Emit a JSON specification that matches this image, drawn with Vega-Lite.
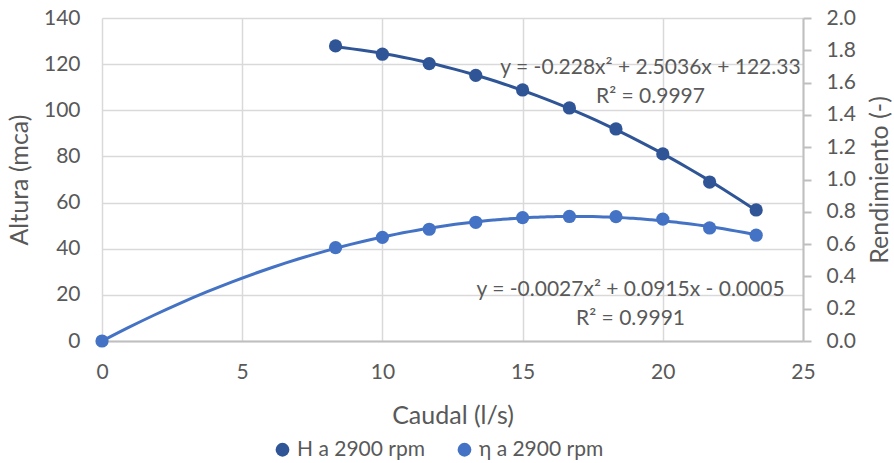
{
  "$schema": "https://vega.github.io/schema/vega-lite/v6.json",
  "width": 701,
  "height": 323,
  "autosize": {"type": "none"},
  "padding": {"left": 102, "top": 18, "right": 91, "bottom": 122},
  "background": "white",
  "config": {
    "font": "Lato",
    "view": {"stroke": null},
    "axis": {"labelFont": "Lato", "titleFont": "Lato", "labelFontSize": 21, "titleFontSize": 25, "labelColor": "#595959", "titleColor": "#595959", "titleFontWeight": "normal", "gridColor": "#D9D9D9", "gridWidth": 1.5, "labelFlush": false, "labelOverlap": false},
    "legend": {"labelFont": "Lato", "labelFontSize": 21, "labelColor": "#595959"}
  },
  "datasets": {
    "H": [
      {"q": 8.33, "H": 127.9},
      {"q": 10.0, "H": 124.3},
      {"q": 11.67, "H": 120.2},
      {"q": 13.33, "H": 115.1},
      {"q": 15.0, "H": 108.8},
      {"q": 16.67, "H": 101.0},
      {"q": 18.33, "H": 91.9},
      {"q": 20.0, "H": 81.1},
      {"q": 21.67, "H": 68.9},
      {"q": 23.33, "H": 56.8}
    ],
    "eta": [
      {"q": 0, "eta": 0.0},
      {"q": 8.33, "eta": 0.578},
      {"q": 10.0, "eta": 0.642},
      {"q": 11.67, "eta": 0.692},
      {"q": 13.33, "eta": 0.735},
      {"q": 15.0, "eta": 0.764},
      {"q": 16.67, "eta": 0.771},
      {"q": 18.33, "eta": 0.770},
      {"q": 20.0, "eta": 0.755},
      {"q": 21.67, "eta": 0.700},
      {"q": 23.33, "eta": 0.655}
    ],
    "labels": [
      {"q": 19.56, "H": 118.3, "txt": "y = -0.228x² + 2.5036x + 122.33"},
      {"q": 19.56, "H": 105.8, "txt": "R² = 0.9997"},
      {"q": 18.85, "H": 22.1, "txt": "y = -0.0027x² + 0.0915x - 0.0005"},
      {"q": 18.85, "H": 9.5, "txt": "R² = 0.9991"}
    ]
  },
  "layer": [
    {
      "layer": [
        {
          "data": {"name": "H"},
          "transform": [{"regression": "H", "on": "q", "method": "poly", "order": 2, "extent": [8.33, 23.33]}],
          "mark": {"type": "line", "color": "#2F5597", "strokeWidth": 3, "interpolate": "monotone"},
          "encoding": {
            "x": {"field": "q", "type": "quantitative"},
            "y": {"field": "H", "type": "quantitative"}
          }
        },
        {
          "data": {"name": "H"},
          "mark": {"type": "point", "filled": true, "opacity": 1, "size": 175},
          "encoding": {
            "x": {"field": "q", "type": "quantitative", "scale": {"domain": [0, 25], "nice": false},
              "axis": {"title": "Caudal (l/s)", "values": [0, 5, 10, 15, 20, 25], "grid": true, "ticks": false, "domainColor": "#BFBFBF", "domainWidth": 2, "labelPadding": 20, "titlePadding": 21, "labelOverlap": false, "labelFlush": false}},
            "y": {"field": "H", "type": "quantitative", "scale": {"domain": [0, 140], "nice": false},
              "axis": {"title": "Altura (mca)", "orient": "left", "values": [0, 20, 40, 60, 80, 100, 120, 140], "grid": true, "domain": false, "ticks": false, "labelPadding": 22, "titlePadding": 11, "labelOverlap": false}},
            "color": {"datum": "H a 2900 rpm", "type": "nominal",
              "scale": {"domain": ["H a 2900 rpm", "η a 2900 rpm"], "range": ["#2F5597", "#4472C4"]},
              "legend": {"title": null, "orient": "none", "legendX": 170, "legendY": 421, "direction": "horizontal", "symbolType": "circle", "symbolSize": 190, "columnPadding": 28, "labelLimit": 300}}
          }
        },
        {
          "data": {"name": "labels"},
          "mark": {"type": "text", "fontSize": 21, "color": "#595959", "font": "Lato", "align": "center", "baseline": "middle"},
          "encoding": {
            "x": {"field": "q", "type": "quantitative"},
            "y": {"field": "H", "type": "quantitative"},
            "text": {"field": "txt"}
          }
        }
      ]
    },
    {
      "layer": [
        {
          "data": {"name": "eta"},
          "transform": [{"regression": "eta", "on": "q", "method": "poly", "order": 2, "extent": [0, 23.33]}],
          "mark": {"type": "line", "color": "#4472C4", "strokeWidth": 3, "interpolate": "monotone"},
          "encoding": {
            "x": {"field": "q", "type": "quantitative"},
            "y": {"field": "eta", "type": "quantitative"}
          }
        },
        {
          "data": {"name": "eta"},
          "mark": {"type": "point", "filled": true, "opacity": 1, "size": 175},
          "encoding": {
            "x": {"field": "q", "type": "quantitative"},
            "y": {"field": "eta", "type": "quantitative", "scale": {"domain": [0, 2], "nice": false},
              "axis": {"title": "Rendimiento (-)", "orient": "right", "values": [0, 0.2, 0.4, 0.6, 0.8, 1.0, 1.2, 1.4, 1.6, 1.8, 2.0], "tickCount": 11, "format": ".1f", "grid": false, "domainColor": "#BFBFBF", "domainWidth": 2, "tickColor": "#BFBFBF", "tickWidth": 2, "tickSize": 8, "labelPadding": 15, "titlePadding": 12, "titleAngle": 270, "titleBaseline": "top", "labelOverlap": false}},
            "color": {"datum": "η a 2900 rpm", "type": "nominal"}
          }
        }
      ]
    }
  ],
  "resolve": {"scale": {"y": "independent"}}
}
